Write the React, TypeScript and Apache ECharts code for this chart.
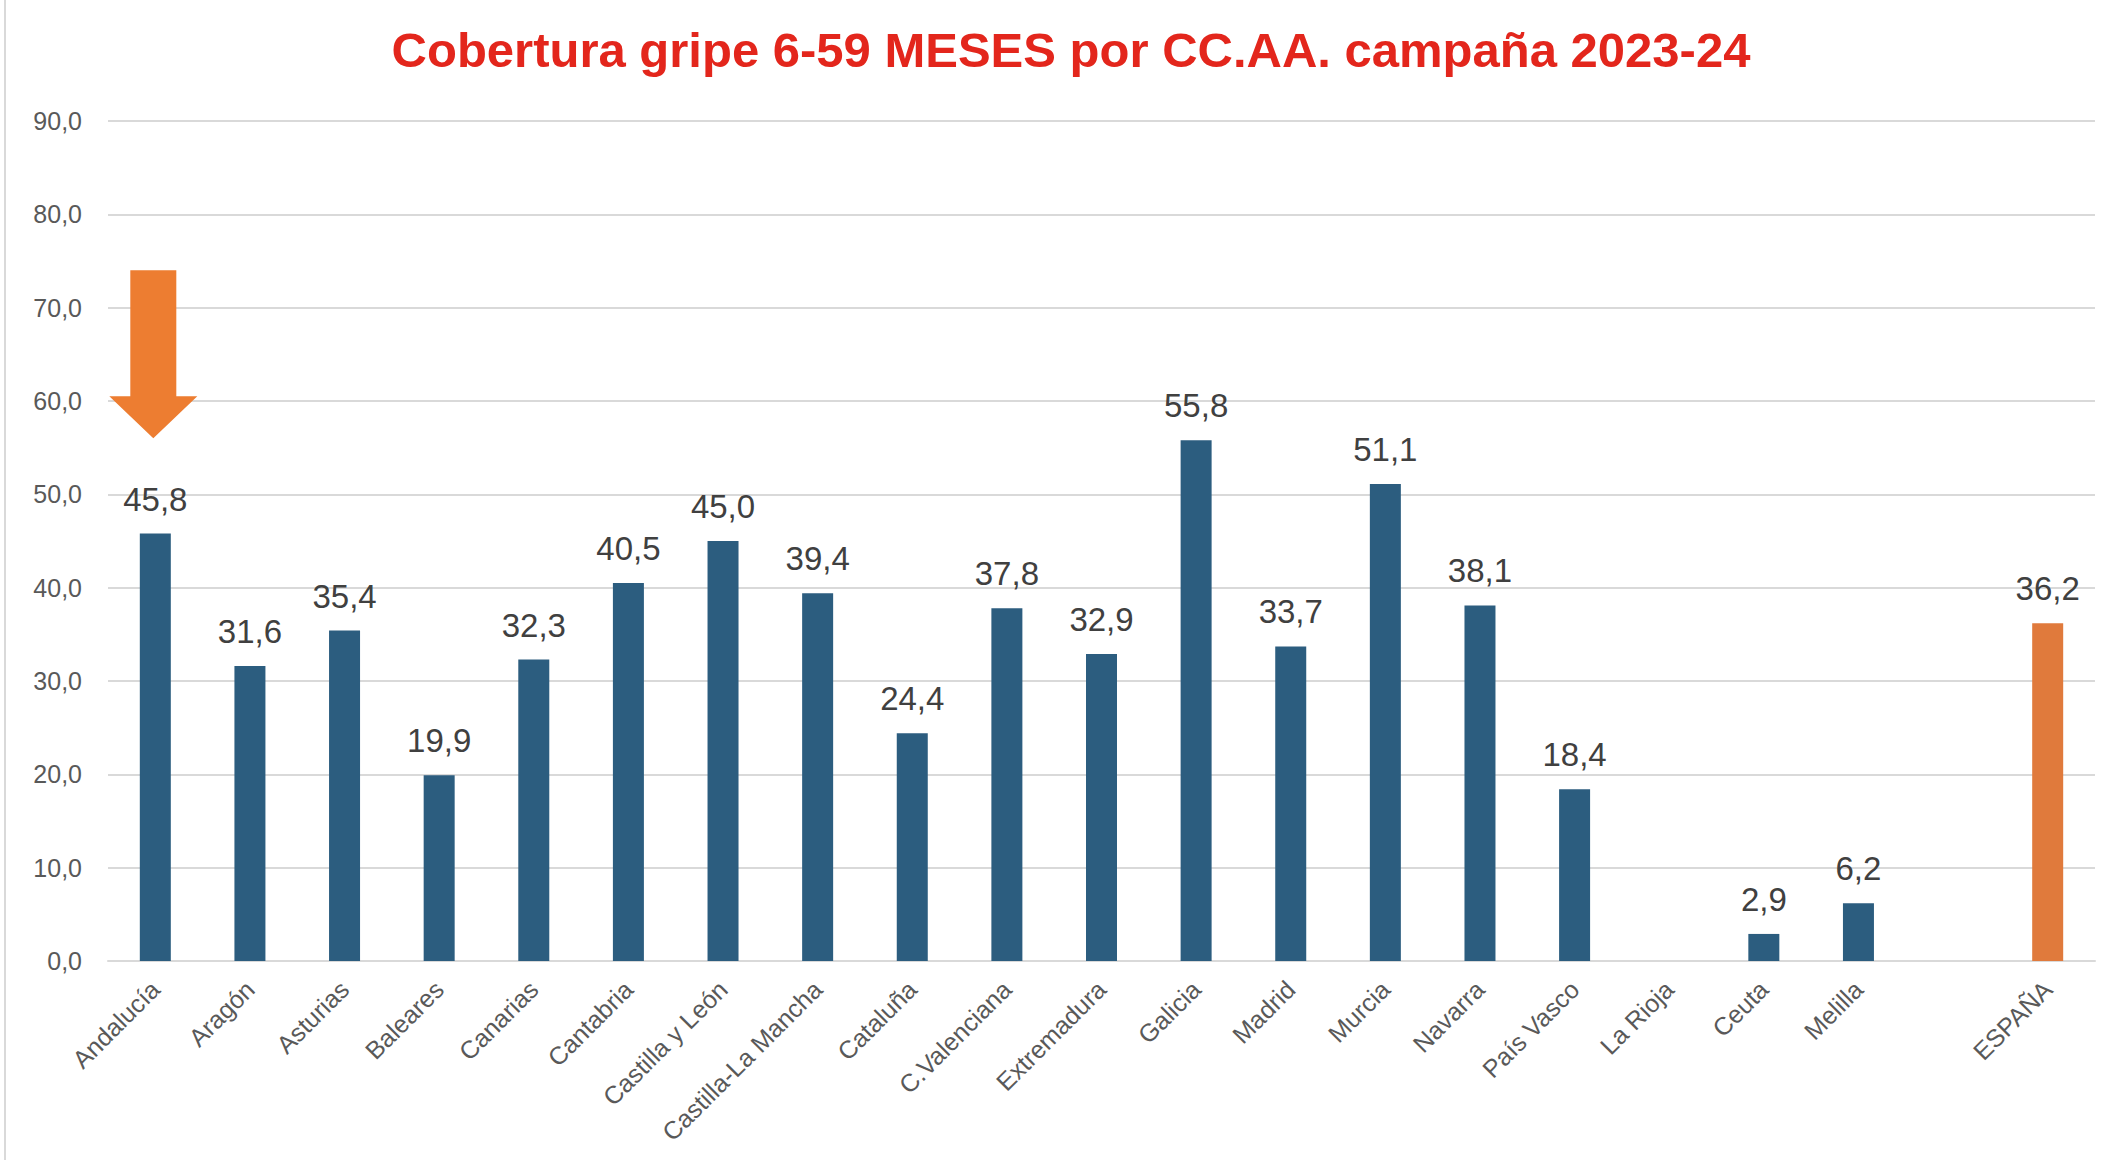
import React, { useEffect, useRef } from "react";
import * as echarts from "echarts";

const categories = [
  "Andalucía", "Aragón", "Asturias", "Baleares", "Canarias", "Cantabria",
  "Castilla y León", "Castilla-La Mancha", "Cataluña", "C.Valenciana",
  "Extremadura", "Galicia", "Madrid", "Murcia", "Navarra", "País Vasco",
  "La Rioja", "Ceuta", "Melilla", "", "ESPAÑA",
];
const values: (number | null)[] = [
  45.8, 31.6, 35.4, 19.9, 32.3, 40.5, 45.0, 39.4, 24.4, 37.8,
  32.9, 55.8, 33.7, 51.1, 38.1, 18.4, null, 2.9, 6.2, null, 36.2,
];
const highlightCategory = "ESPAÑA";
const arrowCategory = "Andalucía";
const arrowValues = { top: 74, base: 60.5, tip: 56 };
const yMin = 0;
const yMax = 90;
const yInterval = 10;
const titleText = "Cobertura gripe 6-59 MESES por CC.AA. campaña 2023-24";

const fmt = (v: number) => v.toFixed(1).replace(".", ",");

export default function App() {
  const ref = useRef<HTMLDivElement>(null);
  useEffect(() => {
    if (!ref.current) return;
    const chart = echarts.init(ref.current, null, { renderer: "svg" });
    const font = "'Liberation Sans', Arial, sans-serif";
    chart.setOption({
      animation: false,
      backgroundColor: "#ffffff",
      grid: { left: 108, right: 11, top: 121, bottom: 199, containLabel: false },
      xAxis: {
        type: "category",
        data: categories,
        axisLine: { show: true, lineStyle: { color: "#D9D9D9", width: 2 } },
        axisTick: { show: false },
        axisLabel: {
          rotate: 45,
          interval: 0,
          margin: 24,
          color: "#595959",
          fontSize: 25,
          fontFamily: font,
        },
      },
      yAxis: {
        type: "value",
        min: yMin,
        max: yMax,
        interval: yInterval,
        axisLine: { show: false },
        axisTick: { show: false },
        splitLine: { lineStyle: { color: "#D9D9D9", width: 2 } },
        axisLabel: {
          formatter: (v: number) => fmt(v),
          color: "#595959",
          fontSize: 25,
          fontFamily: font,
          margin: 26,
        },
      },
      series: [
        {
          type: "bar",
          barWidth: 31,
          data: values.map((v, i) => ({
            value: v,
            itemStyle: {
              color: categories[i] === highlightCategory ? "#E07A3C" : "#2C5D7F",
            },
          })),
          label: {
            show: true,
            position: "top",
            distance: 18,
            color: "#404040",
            fontSize: 33,
            fontFamily: font,
            formatter: (p: any) => (p.value == null ? "" : fmt(p.value)),
          },
        },
      ],
    });

    const cx = chart.convertToPixel({ xAxisIndex: 0 }, arrowCategory) as number;
    const yTop = chart.convertToPixel({ yAxisIndex: 0 }, arrowValues.top) as number;
    const yBase = chart.convertToPixel({ yAxisIndex: 0 }, arrowValues.base) as number;
    const yTip = chart.convertToPixel({ yAxisIndex: 0 }, arrowValues.tip) as number;
    const shaftHalf = 23;
    const headHalf = 44;
    const ax = cx - 2;

    chart.setOption({
      graphic: [
        {
          type: "line",
          shape: { x1: 5, y1: 0, x2: 5, y2: 1160 },
          style: { stroke: "#D9D9D9", lineWidth: 2 },
        },
        {
          type: "text",
          x: 1071,
          y: 50,
          style: {
            text: titleText,
            textAlign: "center",
            textVerticalAlign: "middle",
            fill: "#E3261C",
            fontSize: 49,
            fontWeight: "bold",
            fontFamily: font,
          },
        },
        {
          type: "polygon",
          shape: {
            points: [
              [ax - shaftHalf, yTop],
              [ax + shaftHalf, yTop],
              [ax + shaftHalf, yBase],
              [ax + headHalf, yBase],
              [ax, yTip],
              [ax - headHalf, yBase],
              [ax - shaftHalf, yBase],
            ],
          },
          style: { fill: "#ED7D31" },
        },
      ],
    });

    return () => chart.dispose();
  }, []);
  return (
    <div
      ref={ref}
      style={{ position: "fixed", left: 0, top: 0, width: 2106, height: 1160, background: "#fff" }}
    />
  );
}
